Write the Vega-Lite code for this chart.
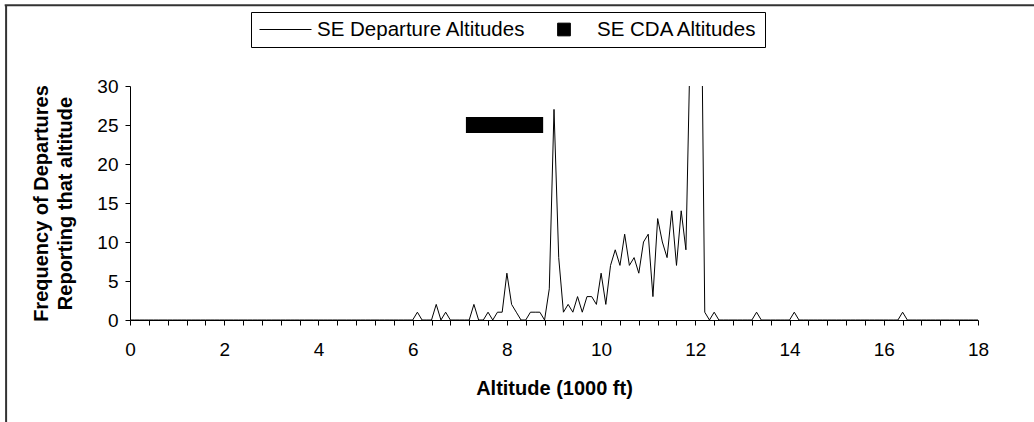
{
  "$schema": "https://vega.github.io/schema/vega-lite/v6.json",
  "width": 848,
  "height": 234,
  "autosize": "none",
  "padding": {"left": 130, "top": 86, "right": 56, "bottom": 102},
  "background": "white",
  "config": {"view": {"stroke": null}, "font": "Liberation Sans"},
  "datasets": {
    "dep": [
      {"alt": 0.0, "freq": 0, "series": "SE Departure Altitudes"},
      {"alt": 0.1, "freq": 0, "series": "SE Departure Altitudes"},
      {"alt": 0.2, "freq": 0, "series": "SE Departure Altitudes"},
      {"alt": 0.3, "freq": 0, "series": "SE Departure Altitudes"},
      {"alt": 0.4, "freq": 0, "series": "SE Departure Altitudes"},
      {"alt": 0.5, "freq": 0, "series": "SE Departure Altitudes"},
      {"alt": 0.6, "freq": 0, "series": "SE Departure Altitudes"},
      {"alt": 0.7, "freq": 0, "series": "SE Departure Altitudes"},
      {"alt": 0.8, "freq": 0, "series": "SE Departure Altitudes"},
      {"alt": 0.9, "freq": 0, "series": "SE Departure Altitudes"},
      {"alt": 1.0, "freq": 0, "series": "SE Departure Altitudes"},
      {"alt": 1.1, "freq": 0, "series": "SE Departure Altitudes"},
      {"alt": 1.2, "freq": 0, "series": "SE Departure Altitudes"},
      {"alt": 1.3, "freq": 0, "series": "SE Departure Altitudes"},
      {"alt": 1.4, "freq": 0, "series": "SE Departure Altitudes"},
      {"alt": 1.5, "freq": 0, "series": "SE Departure Altitudes"},
      {"alt": 1.6, "freq": 0, "series": "SE Departure Altitudes"},
      {"alt": 1.7, "freq": 0, "series": "SE Departure Altitudes"},
      {"alt": 1.8, "freq": 0, "series": "SE Departure Altitudes"},
      {"alt": 1.9, "freq": 0, "series": "SE Departure Altitudes"},
      {"alt": 2.0, "freq": 0, "series": "SE Departure Altitudes"},
      {"alt": 2.1, "freq": 0, "series": "SE Departure Altitudes"},
      {"alt": 2.2, "freq": 0, "series": "SE Departure Altitudes"},
      {"alt": 2.3, "freq": 0, "series": "SE Departure Altitudes"},
      {"alt": 2.4, "freq": 0, "series": "SE Departure Altitudes"},
      {"alt": 2.5, "freq": 0, "series": "SE Departure Altitudes"},
      {"alt": 2.6, "freq": 0, "series": "SE Departure Altitudes"},
      {"alt": 2.7, "freq": 0, "series": "SE Departure Altitudes"},
      {"alt": 2.8, "freq": 0, "series": "SE Departure Altitudes"},
      {"alt": 2.9, "freq": 0, "series": "SE Departure Altitudes"},
      {"alt": 3.0, "freq": 0, "series": "SE Departure Altitudes"},
      {"alt": 3.1, "freq": 0, "series": "SE Departure Altitudes"},
      {"alt": 3.2, "freq": 0, "series": "SE Departure Altitudes"},
      {"alt": 3.3, "freq": 0, "series": "SE Departure Altitudes"},
      {"alt": 3.4, "freq": 0, "series": "SE Departure Altitudes"},
      {"alt": 3.5, "freq": 0, "series": "SE Departure Altitudes"},
      {"alt": 3.6, "freq": 0, "series": "SE Departure Altitudes"},
      {"alt": 3.7, "freq": 0, "series": "SE Departure Altitudes"},
      {"alt": 3.8, "freq": 0, "series": "SE Departure Altitudes"},
      {"alt": 3.9, "freq": 0, "series": "SE Departure Altitudes"},
      {"alt": 4.0, "freq": 0, "series": "SE Departure Altitudes"},
      {"alt": 4.1, "freq": 0, "series": "SE Departure Altitudes"},
      {"alt": 4.2, "freq": 0, "series": "SE Departure Altitudes"},
      {"alt": 4.3, "freq": 0, "series": "SE Departure Altitudes"},
      {"alt": 4.4, "freq": 0, "series": "SE Departure Altitudes"},
      {"alt": 4.5, "freq": 0, "series": "SE Departure Altitudes"},
      {"alt": 4.6, "freq": 0, "series": "SE Departure Altitudes"},
      {"alt": 4.7, "freq": 0, "series": "SE Departure Altitudes"},
      {"alt": 4.8, "freq": 0, "series": "SE Departure Altitudes"},
      {"alt": 4.9, "freq": 0, "series": "SE Departure Altitudes"},
      {"alt": 5.0, "freq": 0, "series": "SE Departure Altitudes"},
      {"alt": 5.1, "freq": 0, "series": "SE Departure Altitudes"},
      {"alt": 5.2, "freq": 0, "series": "SE Departure Altitudes"},
      {"alt": 5.3, "freq": 0, "series": "SE Departure Altitudes"},
      {"alt": 5.4, "freq": 0, "series": "SE Departure Altitudes"},
      {"alt": 5.5, "freq": 0, "series": "SE Departure Altitudes"},
      {"alt": 5.6, "freq": 0, "series": "SE Departure Altitudes"},
      {"alt": 5.7, "freq": 0, "series": "SE Departure Altitudes"},
      {"alt": 5.8, "freq": 0, "series": "SE Departure Altitudes"},
      {"alt": 5.9, "freq": 0, "series": "SE Departure Altitudes"},
      {"alt": 6.0, "freq": 0, "series": "SE Departure Altitudes"},
      {"alt": 6.1, "freq": 1, "series": "SE Departure Altitudes"},
      {"alt": 6.2, "freq": 0, "series": "SE Departure Altitudes"},
      {"alt": 6.3, "freq": 0, "series": "SE Departure Altitudes"},
      {"alt": 6.4, "freq": 0, "series": "SE Departure Altitudes"},
      {"alt": 6.5, "freq": 2, "series": "SE Departure Altitudes"},
      {"alt": 6.6, "freq": 0, "series": "SE Departure Altitudes"},
      {"alt": 6.7, "freq": 1, "series": "SE Departure Altitudes"},
      {"alt": 6.8, "freq": 0, "series": "SE Departure Altitudes"},
      {"alt": 6.9, "freq": 0, "series": "SE Departure Altitudes"},
      {"alt": 7.0, "freq": 0, "series": "SE Departure Altitudes"},
      {"alt": 7.1, "freq": 0, "series": "SE Departure Altitudes"},
      {"alt": 7.2, "freq": 0, "series": "SE Departure Altitudes"},
      {"alt": 7.3, "freq": 2, "series": "SE Departure Altitudes"},
      {"alt": 7.4, "freq": 0, "series": "SE Departure Altitudes"},
      {"alt": 7.5, "freq": 0, "series": "SE Departure Altitudes"},
      {"alt": 7.6, "freq": 1, "series": "SE Departure Altitudes"},
      {"alt": 7.7, "freq": 0, "series": "SE Departure Altitudes"},
      {"alt": 7.8, "freq": 1, "series": "SE Departure Altitudes"},
      {"alt": 7.9, "freq": 1, "series": "SE Departure Altitudes"},
      {"alt": 8.0, "freq": 6, "series": "SE Departure Altitudes"},
      {"alt": 8.1, "freq": 2, "series": "SE Departure Altitudes"},
      {"alt": 8.2, "freq": 1, "series": "SE Departure Altitudes"},
      {"alt": 8.3, "freq": 0, "series": "SE Departure Altitudes"},
      {"alt": 8.4, "freq": 0, "series": "SE Departure Altitudes"},
      {"alt": 8.5, "freq": 1, "series": "SE Departure Altitudes"},
      {"alt": 8.6, "freq": 1, "series": "SE Departure Altitudes"},
      {"alt": 8.7, "freq": 1, "series": "SE Departure Altitudes"},
      {"alt": 8.8, "freq": 0, "series": "SE Departure Altitudes"},
      {"alt": 8.9, "freq": 4, "series": "SE Departure Altitudes"},
      {"alt": 9.0, "freq": 27, "series": "SE Departure Altitudes"},
      {"alt": 9.1, "freq": 8, "series": "SE Departure Altitudes"},
      {"alt": 9.2, "freq": 1, "series": "SE Departure Altitudes"},
      {"alt": 9.3, "freq": 2, "series": "SE Departure Altitudes"},
      {"alt": 9.4, "freq": 1, "series": "SE Departure Altitudes"},
      {"alt": 9.5, "freq": 3, "series": "SE Departure Altitudes"},
      {"alt": 9.6, "freq": 1, "series": "SE Departure Altitudes"},
      {"alt": 9.7, "freq": 3, "series": "SE Departure Altitudes"},
      {"alt": 9.8, "freq": 3, "series": "SE Departure Altitudes"},
      {"alt": 9.9, "freq": 2, "series": "SE Departure Altitudes"},
      {"alt": 10.0, "freq": 6, "series": "SE Departure Altitudes"},
      {"alt": 10.1, "freq": 2, "series": "SE Departure Altitudes"},
      {"alt": 10.2, "freq": 7, "series": "SE Departure Altitudes"},
      {"alt": 10.3, "freq": 9, "series": "SE Departure Altitudes"},
      {"alt": 10.4, "freq": 7, "series": "SE Departure Altitudes"},
      {"alt": 10.5, "freq": 11, "series": "SE Departure Altitudes"},
      {"alt": 10.6, "freq": 7, "series": "SE Departure Altitudes"},
      {"alt": 10.7, "freq": 8, "series": "SE Departure Altitudes"},
      {"alt": 10.8, "freq": 6, "series": "SE Departure Altitudes"},
      {"alt": 10.9, "freq": 10, "series": "SE Departure Altitudes"},
      {"alt": 11.0, "freq": 11, "series": "SE Departure Altitudes"},
      {"alt": 11.1, "freq": 3, "series": "SE Departure Altitudes"},
      {"alt": 11.2, "freq": 13, "series": "SE Departure Altitudes"},
      {"alt": 11.3, "freq": 10, "series": "SE Departure Altitudes"},
      {"alt": 11.4, "freq": 8, "series": "SE Departure Altitudes"},
      {"alt": 11.5, "freq": 14, "series": "SE Departure Altitudes"},
      {"alt": 11.6, "freq": 7, "series": "SE Departure Altitudes"},
      {"alt": 11.7, "freq": 14, "series": "SE Departure Altitudes"},
      {"alt": 11.8, "freq": 9, "series": "SE Departure Altitudes"},
      {"alt": 11.9, "freq": 38, "series": "SE Departure Altitudes"},
      {"alt": 12.0, "freq": 80, "series": "SE Departure Altitudes"},
      {"alt": 12.1, "freq": 59, "series": "SE Departure Altitudes"},
      {"alt": 12.2, "freq": 1, "series": "SE Departure Altitudes"},
      {"alt": 12.3, "freq": 0, "series": "SE Departure Altitudes"},
      {"alt": 12.4, "freq": 1, "series": "SE Departure Altitudes"},
      {"alt": 12.5, "freq": 0, "series": "SE Departure Altitudes"},
      {"alt": 12.6, "freq": 0, "series": "SE Departure Altitudes"},
      {"alt": 12.7, "freq": 0, "series": "SE Departure Altitudes"},
      {"alt": 12.8, "freq": 0, "series": "SE Departure Altitudes"},
      {"alt": 12.9, "freq": 0, "series": "SE Departure Altitudes"},
      {"alt": 13.0, "freq": 0, "series": "SE Departure Altitudes"},
      {"alt": 13.1, "freq": 0, "series": "SE Departure Altitudes"},
      {"alt": 13.2, "freq": 0, "series": "SE Departure Altitudes"},
      {"alt": 13.3, "freq": 1, "series": "SE Departure Altitudes"},
      {"alt": 13.4, "freq": 0, "series": "SE Departure Altitudes"},
      {"alt": 13.5, "freq": 0, "series": "SE Departure Altitudes"},
      {"alt": 13.6, "freq": 0, "series": "SE Departure Altitudes"},
      {"alt": 13.7, "freq": 0, "series": "SE Departure Altitudes"},
      {"alt": 13.8, "freq": 0, "series": "SE Departure Altitudes"},
      {"alt": 13.9, "freq": 0, "series": "SE Departure Altitudes"},
      {"alt": 14.0, "freq": 0, "series": "SE Departure Altitudes"},
      {"alt": 14.1, "freq": 1, "series": "SE Departure Altitudes"},
      {"alt": 14.2, "freq": 0, "series": "SE Departure Altitudes"},
      {"alt": 14.3, "freq": 0, "series": "SE Departure Altitudes"},
      {"alt": 14.4, "freq": 0, "series": "SE Departure Altitudes"},
      {"alt": 14.5, "freq": 0, "series": "SE Departure Altitudes"},
      {"alt": 14.6, "freq": 0, "series": "SE Departure Altitudes"},
      {"alt": 14.7, "freq": 0, "series": "SE Departure Altitudes"},
      {"alt": 14.8, "freq": 0, "series": "SE Departure Altitudes"},
      {"alt": 14.9, "freq": 0, "series": "SE Departure Altitudes"},
      {"alt": 15.0, "freq": 0, "series": "SE Departure Altitudes"},
      {"alt": 15.1, "freq": 0, "series": "SE Departure Altitudes"},
      {"alt": 15.2, "freq": 0, "series": "SE Departure Altitudes"},
      {"alt": 15.3, "freq": 0, "series": "SE Departure Altitudes"},
      {"alt": 15.4, "freq": 0, "series": "SE Departure Altitudes"},
      {"alt": 15.5, "freq": 0, "series": "SE Departure Altitudes"},
      {"alt": 15.6, "freq": 0, "series": "SE Departure Altitudes"},
      {"alt": 15.7, "freq": 0, "series": "SE Departure Altitudes"},
      {"alt": 15.8, "freq": 0, "series": "SE Departure Altitudes"},
      {"alt": 15.9, "freq": 0, "series": "SE Departure Altitudes"},
      {"alt": 16.0, "freq": 0, "series": "SE Departure Altitudes"},
      {"alt": 16.1, "freq": 0, "series": "SE Departure Altitudes"},
      {"alt": 16.2, "freq": 0, "series": "SE Departure Altitudes"},
      {"alt": 16.3, "freq": 0, "series": "SE Departure Altitudes"},
      {"alt": 16.4, "freq": 1, "series": "SE Departure Altitudes"},
      {"alt": 16.5, "freq": 0, "series": "SE Departure Altitudes"},
      {"alt": 16.6, "freq": 0, "series": "SE Departure Altitudes"},
      {"alt": 16.7, "freq": 0, "series": "SE Departure Altitudes"},
      {"alt": 16.8, "freq": 0, "series": "SE Departure Altitudes"},
      {"alt": 16.9, "freq": 0, "series": "SE Departure Altitudes"},
      {"alt": 17.0, "freq": 0, "series": "SE Departure Altitudes"},
      {"alt": 17.1, "freq": 0, "series": "SE Departure Altitudes"},
      {"alt": 17.2, "freq": 0, "series": "SE Departure Altitudes"},
      {"alt": 17.3, "freq": 0, "series": "SE Departure Altitudes"},
      {"alt": 17.4, "freq": 0, "series": "SE Departure Altitudes"},
      {"alt": 17.5, "freq": 0, "series": "SE Departure Altitudes"},
      {"alt": 17.6, "freq": 0, "series": "SE Departure Altitudes"},
      {"alt": 17.7, "freq": 0, "series": "SE Departure Altitudes"},
      {"alt": 17.8, "freq": 0, "series": "SE Departure Altitudes"},
      {"alt": 17.9, "freq": 0, "series": "SE Departure Altitudes"},
      {"alt": 18.0, "freq": 0, "series": "SE Departure Altitudes"}
    ],
    "cda": [
      {"alt": 7.3, "freq": 25, "series": "SE CDA Altitudes"},
      {"alt": 7.4, "freq": 25, "series": "SE CDA Altitudes"},
      {"alt": 7.5, "freq": 25, "series": "SE CDA Altitudes"},
      {"alt": 7.6, "freq": 25, "series": "SE CDA Altitudes"},
      {"alt": 7.7, "freq": 25, "series": "SE CDA Altitudes"},
      {"alt": 7.8, "freq": 25, "series": "SE CDA Altitudes"},
      {"alt": 7.9, "freq": 25, "series": "SE CDA Altitudes"},
      {"alt": 8.0, "freq": 25, "series": "SE CDA Altitudes"},
      {"alt": 8.1, "freq": 25, "series": "SE CDA Altitudes"},
      {"alt": 8.2, "freq": 25, "series": "SE CDA Altitudes"},
      {"alt": 8.3, "freq": 25, "series": "SE CDA Altitudes"},
      {"alt": 8.4, "freq": 25, "series": "SE CDA Altitudes"},
      {"alt": 8.5, "freq": 25, "series": "SE CDA Altitudes"},
      {"alt": 8.6, "freq": 25, "series": "SE CDA Altitudes"}
    ]
  },
  "layer": [
    {
      "data": {"name": "dep"},
      "mark": {"type": "line", "strokeWidth": 1, "clip": true},
      "encoding": {
        "x": {
          "field": "alt", "type": "quantitative",
          "scale": {"domain": [0, 18], "nice": false, "zero": false},
          "axis": {
            "values": [0,0.4,0.8,1.2,1.6,2,2.4,2.8,3.2,3.6,4,4.4,4.8,5.2,5.6,6,6.4,6.8,7.2,7.6,8,8.4,8.8,9.2,9.6,10,10.4,10.8,11.2,11.6,12,12.4,12.8,13.2,13.6,14,14.4,14.8,15.2,15.6,16,16.4,16.8,17.2,17.6,18],
            "tickCount": 100,
            "labelExpr": "datum.value % 2 === 0 ? format(datum.value, 'd') : ''",
            "labelOverlap": false,
            "labelFlush": false,
            "labelFontSize": 19,
            "labelColor": "black",
            "labelPadding": 15,
            "tickSize": 5,
            "tickColor": "black",
            "domainColor": "black",
            "grid": false,
            "title": "Altitude (1000 ft)",
            "titleFontSize": 20,
            "titleFontWeight": "bold",
            "titleColor": "black",
            "titlePadding": 19
          }
        },
        "y": {
          "field": "freq", "type": "quantitative",
          "scale": {"domain": [0, 30], "nice": false},
          "axis": {
            "values": [0, 5, 10, 15, 20, 25, 30],
            "tickCount": 100,
            "format": "d",
            "labelOverlap": false,
            "labelFontSize": 19,
            "labelColor": "black",
            "labelPadding": 7,
            "tickSize": 5,
            "tickColor": "black",
            "domainColor": "black",
            "grid": false,
            "title": ["Frequency of Departures", "Reporting that altitude"],
            "titleFontSize": 20,
            "titleFontWeight": "bold",
            "titleColor": "black",
            "titleLineHeight": 24,
            "titlePadding": 21
          }
        },
        "color": {
          "field": "series", "type": "nominal",
          "scale": {"domain": ["SE Departure Altitudes", "SE CDA Altitudes"], "range": ["black", "black"]},
          "legend": {
            "orient": "none",
            "legendX": 121,
            "legendY": -74,
            "direction": "horizontal",
            "title": null,
            "strokeColor": "black",
            "fillColor": "white",
            "padding": 7,
            "labelFontSize": 20.5,
            "labelColor": "black",
            "labelLimit": 0,
            "labelOffset": 38,
            "columnPadding": 12,
            "symbolSize": 400,
            "encode": {
              "symbols": {
                "update": {
                  "shape": {"signal": "datum.value === 'SE CDA Altitudes' ? 'M0.915,-0.635H2.185V0.635H0.915Z' : 'M-0.9,0H4.3'"},
                  "size": {"value": 400},
                  "fill": {"signal": "datum.value === 'SE CDA Altitudes' ? 'black' : 'transparent'"},
                  "stroke": {"signal": "datum.value === 'SE CDA Altitudes' ? 'transparent' : 'black'"},
                  "strokeWidth": {"value": 1},
                  "opacity": {"value": 1}
                }
              }
            }
          }
        }
      }
    },
    {
      "data": {"name": "cda"},
      "mark": {"type": "point", "shape": "square", "filled": true, "size": 256, "opacity": 1},
      "encoding": {
        "x": {"field": "alt", "type": "quantitative"},
        "y": {"field": "freq", "type": "quantitative"},
        "color": {"field": "series", "type": "nominal"}
      }
    },
    {
      "data": {"values": [{}]},
      "mark": {"type": "rule", "color": "#333333", "strokeWidth": 2, "clip": false},
      "encoding": {
        "x": {"datum": -2.63, "type": "quantitative"},
        "y": {"datum": 40.4, "type": "quantitative"},
        "y2": {"datum": -14}
      }
    },
    {
      "data": {"values": [{}]},
      "mark": {"type": "rule", "color": "#333333", "strokeWidth": 2, "clip": false},
      "encoding": {
        "x": {"datum": -2.66, "type": "quantitative"},
        "x2": {"datum": 19.5},
        "y": {"datum": 40.35, "type": "quantitative"}
      }
    }
  ]
}
